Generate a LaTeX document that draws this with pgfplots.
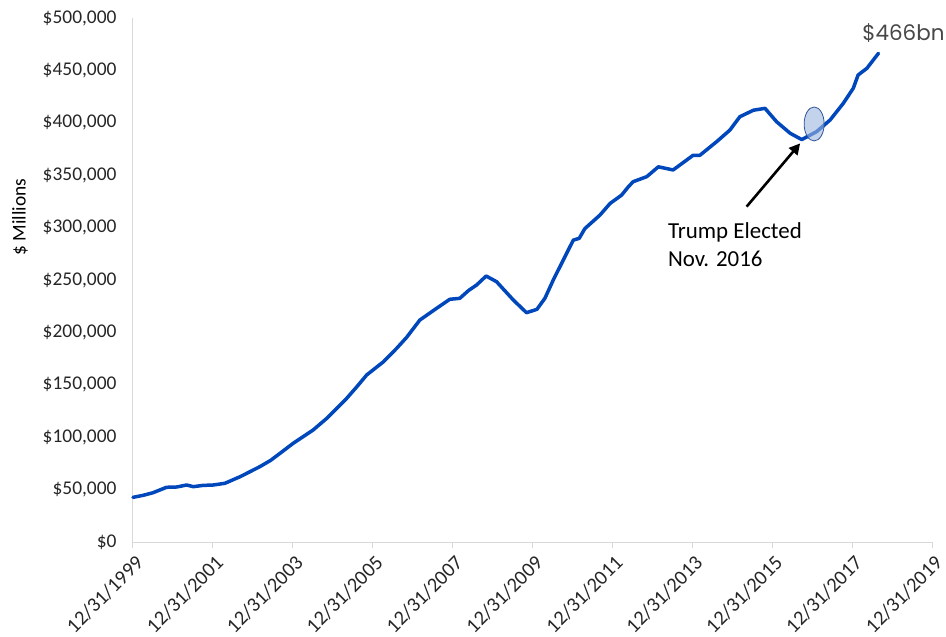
\documentclass[border=0pt]{standalone}
\usepackage{fontspec}
\setmainfont{Carlito}
\newfontfamily\gothic{Poppins}
\usepackage{pgfplots}
\usepackage{pgfplotstable}
\pgfplotsset{compat=1.18}
\usetikzlibrary{arrows.meta}
\definecolor{linecol}{HTML}{0047BB}
\definecolor{axcol}{HTML}{D9D9D9}
\definecolor{txt}{HTML}{262626}
\definecolor{ellfill}{HTML}{9DB5E0}
\definecolor{elldraw}{HTML}{2F5597}

\pgfplotstableread{
x y
2000.00 42600
2000.25 44500
2000.50 47000
2000.84 52200
2001.10 52500
2001.34 54400
2001.51 52800
2001.75 54000
2002.01 54400
2002.30 56000
2002.68 62300
2002.95 67500
2003.18 72000
2003.45 78000
2003.68 84600
2004.01 94200
2004.51 106900
2004.85 118000
2005.35 137100
2005.60 148000
2005.85 159400
2006.27 172000
2006.60 184800
2006.85 195300
2007.18 211800
2007.60 223000
2007.93 231600
2008.18 232500
2008.40 240000
2008.60 245200
2008.84 253800
2009.10 248400
2009.52 230900
2009.85 218800
2010.11 222000
2010.31 232500
2010.52 250000
2010.77 269000
2011.02 288000
2011.17 289800
2011.31 299000
2011.69 312000
2011.94 323000
2012.23 331000
2012.40 339000
2012.52 343800
2012.86 348600
2013.15 358000
2013.52 355000
2013.86 364500
2014.02 369000
2014.19 369000
2014.61 382000
2014.94 393000
2015.19 405800
2015.53 412000
2015.82 413800
2016.11 401000
2016.45 390000
2016.74 384000
2017.11 391500
2017.45 402700
2017.78 418600
2018.03 433000
2018.15 445600
2018.37 452000
2018.66 466300
}\datatable

\begin{document}
\begin{tikzpicture}
\begin{axis}[
  scale only axis, width=799bp, height=524bp,
  xmin=2000, xmax=2020, ymin=0, ymax=500000,
  clip=false,
  axis x line*=bottom, axis y line*=left,
  axis line style={draw=axcol, line width=1bp, -},
  xtick={2000,2002,...,2020},
  xticklabels={12/31/1999,12/31/2001,12/31/2003,12/31/2005,12/31/2007,12/31/2009,12/31/2011,12/31/2013,12/31/2015,12/31/2017,12/31/2019},
  xtick align=outside,
  major tick length=6bp,
  xtick style={draw=axcol, line width=1bp},
  ytick={0,50000,...,500000},
  ytick style={draw=none},
  scaled y ticks=false,
  /pgf/number format/assume math mode=true,
  yticklabel={\$\pgfmathprintnumber[fixed,precision=0,1000 sep={,}]{\tick}},
  yticklabel style={font=\fontsize{19.5}{22}\selectfont, text=txt, xshift=-13bp},
  xticklabel style={font=\fontsize{20.5}{23}\selectfont, text=txt, rotate=45, anchor=north east, inner sep=1bp, xshift=2bp},
  xticklabel shift=6bp,
  ylabel={\$ Millions},
  ylabel style={font=\fontsize{19.5}{22}\selectfont, text=black, at={(axis description cs:0,0.62)}, anchor=center, yshift=113bp},
]
\addplot[linecol, line width=3.5bp, line join=round, line cap=round] table[x=x,y=y] {\datatable};
\draw[elldraw, line width=0.8bp, fill=ellfill, fill opacity=0.6] (axis cs:2017.05,398900) ellipse [x radius=10bp, y radius=17bp];
\draw[black, line width=2.6bp, -{Triangle[length=11bp,width=11bp]}] (axis cs:2015.36,320000) -- (axis cs:2016.70,380400);
\node[anchor=west, align=left, font=\fontsize{23}{28}\selectfont, text=black, inner sep=0pt] at (axis cs:2013.39,283400) {Trump Elected\\Nov. 2016};
\node[anchor=west, font=\gothic\fontsize{21.5}{24}\selectfont, text=txt!85, inner sep=0pt] at (axis cs:2018.25,485700) {\$466bn};
\end{axis}
\pgfresetboundingbox
\useasboundingbox (-133bp,-95bp) rectangle (813bp,542bp);
\end{tikzpicture}
\end{document}
